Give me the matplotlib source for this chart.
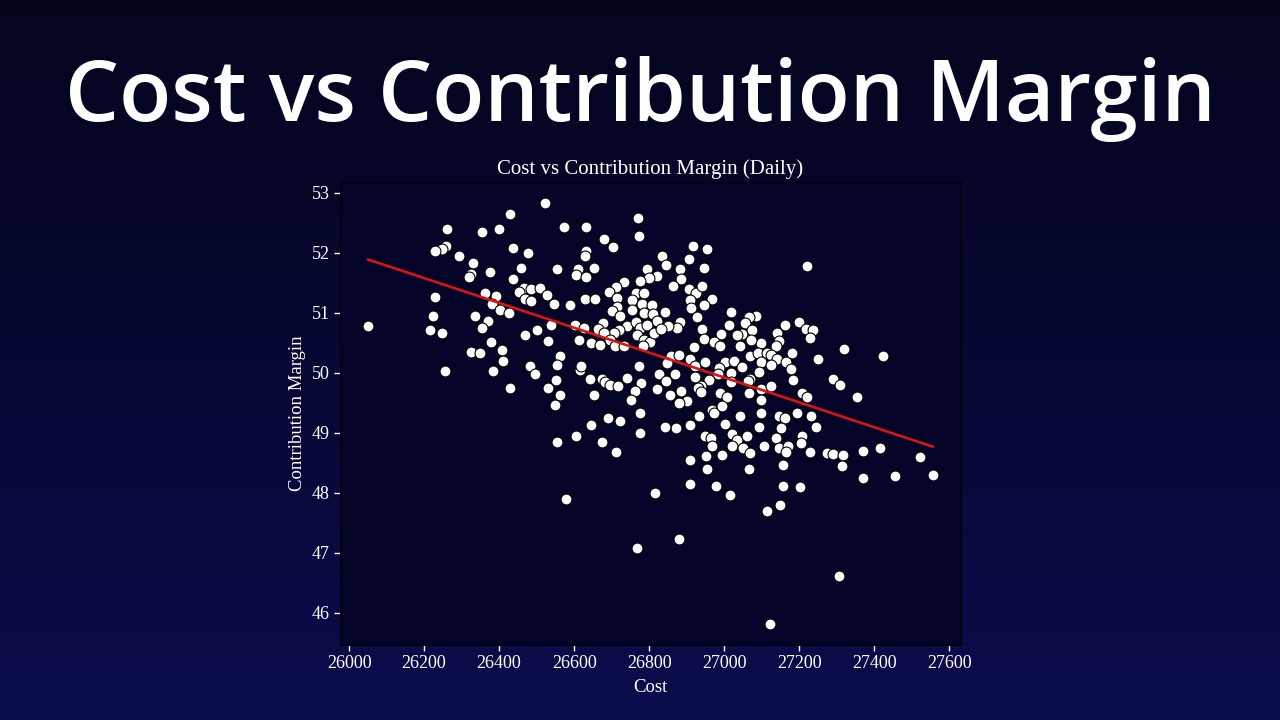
import numpy as np
import matplotlib.pyplot as plt
from matplotlib.colors import LinearSegmentedColormap

# daily cost vs contribution margin
cost = [
    26262, 26354, 26400, 26258, 26249, 26229, 26293, 26330, 26377, 26325,
    26319, 26229, 26362, 26392, 26380, 26402, 26223, 26336, 26370, 26354,
    26051, 26217, 26247, 26378, 26325, 26350, 26408, 26256, 26385,
    26523, 26429, 26572, 26632, 26770, 26773, 26680, 26704, 26436, 26477,
    26632, 26630, 26833, 26554, 26458, 26609, 26605, 26652, 26632, 26794,
    26821, 26800, 26438, 26775, 26734, 26712, 26692, 26467, 26485, 26508,
    26454, 26527, 26470, 26485, 26545, 26590, 26630, 26656, 26714, 26766,
    26787, 26754, 26780, 26808, 26714, 26702, 26754, 26785, 26723, 26810,
    26821, 26427, 26538, 26603, 26625, 26678, 26663, 26741, 26766, 26775,
    26794, 26720, 26705, 26500, 26468, 26680, 26768, 26787, 26803, 26812,
    26612, 26531, 26645, 26670, 26696, 26709, 26734, 26784, 26411, 26481,
    26496, 26563, 26554, 26616, 26619, 26641, 26674, 26683, 26696, 26718,
    26772, 26741, 26778, 26762, 26827, 26821, 26530, 26552, 26561, 26429,
    26550, 26652, 26752, 26775, 26691, 26723,
    26916, 26955, 26906, 26844, 26883, 26947, 27222, 26885, 26864, 26906,
    26926, 26942, 26968, 26910, 26912, 26947, 26843, 26928, 27017, 27086,
    27066, 26881, 26873, 26849, 26832, 26941, 27013, 27055, 27073, 27048,
    27035, 26992, 26946, 27162, 27200, 27218, 27237, 27229, 27142, 27146,
    27137, 27097, 27072, 27041, 26972, 26988, 26919, 26857, 26879, 26908,
    26921, 26950, 27003, 27026, 27070, 27091, 27113, 27124, 27097, 27140,
    27165, 27182, 27250, 26848, 26870, 26986, 26983, 27048, 27070, 27063,
    27092, 27124, 27177, 27184, 27017, 27019, 26959, 26939, 26930, 26937,
    26923, 26846, 26885, 26855, 26901, 26879, 26990, 27008, 27066, 27097,
    27097, 27126, 27208, 27220, 26968, 26972, 26995, 27145, 27161, 27193,
    27232, 27043, 27097, 26871, 26932,
    27318, 27422, 27291, 27309, 27355,
    26555, 26606, 26645, 26674, 26712, 26776, 26577, 26816, 26767,
    26843, 26910, 27003, 27092, 27152, 27245, 26948, 26965, 27021, 27033,
    27020, 27062, 27137, 27208, 26968, 27049, 27106, 27145, 27170, 27166,
    27204, 26908, 26952, 26994, 27070, 27228, 27273, 27291, 27316, 27370,
    27414, 27522, 26955, 27066, 27157, 27314, 27369, 27456, 27556, 26908,
    26978, 27015, 27158, 27202, 27150, 27113, 26879, 27307, 27121,
]

margin = [
    52.40, 52.34, 52.39, 52.11, 52.06, 52.02, 51.95, 51.83, 51.68, 51.64,
    51.59, 51.26, 51.32, 51.27, 51.14, 51.05, 50.94, 50.95, 50.86, 50.75,
    50.78, 50.71, 50.66, 50.51, 50.35, 50.33, 50.37, 50.02, 50.02,
    52.82, 52.65, 52.43, 52.43, 52.58, 52.27, 52.22, 52.09, 52.07, 52.00,
    52.03, 51.95, 51.95, 51.73, 51.75, 51.73, 51.63, 51.74, 51.59, 51.72,
    51.61, 51.58, 51.56, 51.53, 51.51, 51.43, 51.34, 51.41, 51.39, 51.41,
    51.34, 51.29, 51.23, 51.19, 51.14, 51.13, 51.22, 51.22, 51.25, 51.33,
    51.33, 51.21, 51.14, 51.13, 51.10, 51.03, 51.04, 50.99, 50.95, 50.97,
    50.86, 51.00, 50.80, 50.80, 50.75, 50.82, 50.73, 50.77, 50.84, 50.75,
    50.80, 50.71, 50.66, 50.71, 50.63, 50.66, 50.63, 50.55, 50.51, 50.66,
    50.55, 50.52, 50.50, 50.46, 50.55, 50.45, 50.44, 50.45, 50.19, 50.11,
    49.97, 50.27, 50.13, 50.05, 50.11, 49.90, 49.90, 49.85, 49.80, 49.78,
    50.11, 49.91, 49.83, 49.70, 49.98, 49.72, 49.74, 49.87, 49.63, 49.74,
    49.46, 49.63, 49.54, 49.33, 49.25, 49.20,
    52.11, 52.06, 51.90, 51.79, 51.72, 51.74, 51.77, 51.56, 51.44, 51.39,
    51.33, 51.44, 51.23, 51.21, 51.07, 51.13, 51.01, 50.93, 51.01, 50.95,
    50.92, 50.84, 50.74, 50.77, 50.72, 50.72, 50.80, 50.82, 50.71, 50.65,
    50.62, 50.64, 50.56, 50.80, 50.84, 50.72, 50.71, 50.58, 50.66, 50.52,
    50.44, 50.50, 50.54, 50.45, 50.51, 50.45, 50.43, 50.27, 50.30, 50.22,
    50.11, 50.17, 50.17, 50.19, 50.27, 50.33, 50.33, 50.30, 50.17, 50.22,
    50.17, 50.32, 50.22, 50.16, 49.98, 50.08, 49.98, 50.10, 49.90, 49.86,
    50.01, 50.13, 50.06, 49.88, 50.00, 49.85, 49.88, 49.78, 49.74, 49.68,
    49.92, 49.86, 49.70, 49.62, 49.53, 49.50, 49.66, 49.59, 49.66, 49.72,
    49.54, 49.78, 49.66, 49.60, 49.38, 49.32, 49.44, 49.28, 49.25, 49.33,
    49.27, 49.28, 49.33, 49.08, 49.28,
    50.40, 50.27, 49.90, 49.79, 49.59,
    48.84, 48.95, 49.13, 48.85, 48.68, 48.99, 47.90, 48.00, 47.08,
    49.09, 49.12, 49.14, 49.10, 49.08, 49.10, 48.95, 48.91, 48.97, 48.88,
    48.78, 48.95, 48.91, 48.95, 48.77, 48.75, 48.77, 48.74, 48.78, 48.67,
    48.82, 48.55, 48.61, 48.63, 48.66, 48.67, 48.66, 48.65, 48.63, 48.70,
    48.75, 48.60, 48.40, 48.40, 48.46, 48.44, 48.24, 48.27, 48.29, 48.15,
    48.11, 47.96, 48.11, 48.10, 47.80, 47.69, 47.22, 46.61, 45.81,
]

cost = np.array(cost, dtype=float)
margin = np.array(margin)

plt.rcParams['font.family'] = ['Liberation Serif', 'DejaVu Serif']

fig = plt.figure(figsize=(12.8, 7.2), dpi=100)

# navy gradient behind everything
bg = fig.add_axes([0, 0, 1, 1], zorder=-10)
cmap = LinearSegmentedColormap.from_list('navy', ['#04051d', '#070833', '#0b0c4c'])
bg.imshow(np.linspace(0, 1, 256).reshape(-1, 1), aspect='auto', cmap=cmap,
          extent=[0, 1, 0, 1])
bg.axis('off')

fig.text(0.5, 0.862, 'Cost vs Contribution Margin', ha='center', va='center',
         color='white', fontsize=61.5, fontweight='semibold', family='Open Sans')

ax = fig.add_axes([0.2656, 0.1042, 0.4852, 0.6426])
ax.set_facecolor('#030428')
ax.scatter(cost, margin, s=62, c='white', edgecolors='black', linewidths=0.8, zorder=3)

# linear trend
slope, intercept = np.polyfit(cost, margin, 1)
xs = np.array([cost.min(), cost.max()])
ax.plot(xs, slope * xs + intercept, color='#d81414', lw=1.9, zorder=4)

ax.set_xticks(np.arange(26000, 27601, 200))
ax.set_yticks(np.arange(46, 54, 1))
ax.tick_params(colors='white', labelsize=13, length=4, width=1)
for s in ax.spines.values():
    s.set_color('black')
ax.set_title('Cost vs Contribution Margin (Daily)', color='white', fontsize=15, pad=6)
ax.set_xlabel('Cost', color='white', fontsize=13.5, labelpad=5)
ax.set_ylabel('Contribution Margin', color='white', fontsize=13.5, labelpad=4)

fig.savefig('out.png', dpi=100, facecolor=fig.get_facecolor())
